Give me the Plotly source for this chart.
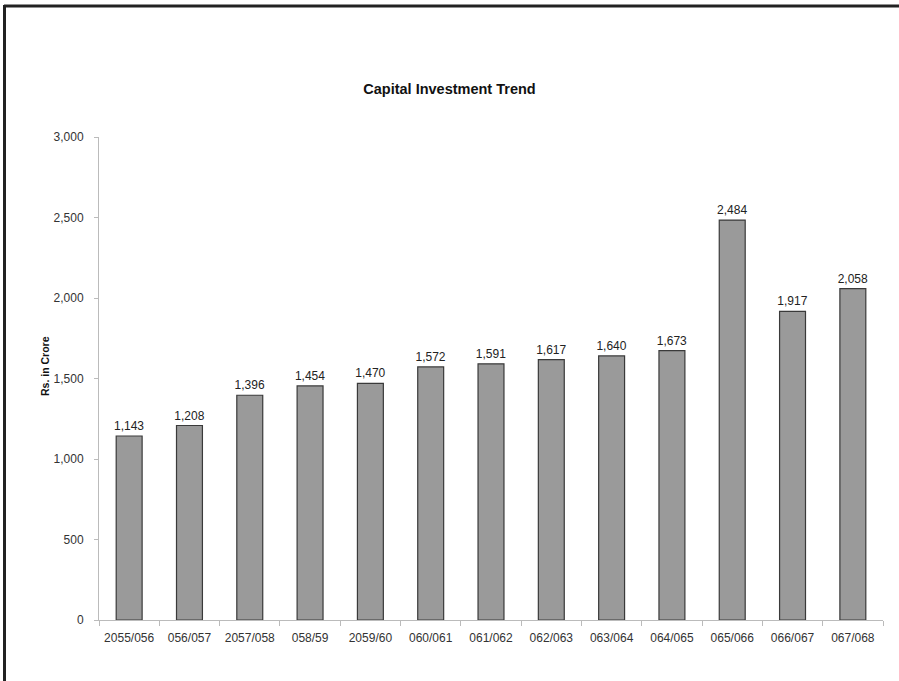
import plotly.graph_objects as go

# data
years = ["2055/056", "056/057", "2057/058", "058/59", "2059/60", "060/061",
         "061/062", "062/063", "063/064", "064/065", "065/066", "066/067", "067/068"]
capital = [1143, 1208, 1396, 1454, 1470, 1572, 1591, 1617, 1640, 1673, 2484, 1917, 2058]
y_ticks = [0, 500, 1000, 1500, 2000, 2500, 3000]

W, H = 899, 681
ML, MR, MT, MB = 99, 16, 137, 61
pw = W - ML - MR
ph = H - MT - MB

def px_x(p):
    return (p - ML) / pw

def px_y(p):
    return (H - MB - p) / ph

fig = go.Figure(go.Bar(
    x=years, y=capital,
    marker=dict(color="#9a9a9a", line=dict(color="#3a3a3a", width=1.2)),
    text=[f"{v:,}" for v in capital],
    textposition="outside",
    constraintext="none",
    textfont=dict(size=12, color="#222"),
    cliponaxis=False,
    width=0.43,
))

fig.update_layout(
    width=W, height=H,
    margin=dict(l=ML, r=MR, t=MT, b=MB),
    paper_bgcolor="white", plot_bgcolor="white",
    font=dict(family="Arial, Liberation Sans, sans-serif", color="#333"),
    title=dict(text="<b>Capital Investment Trend</b>", x=0.5, xanchor="center",
               y=1 - 89 / H, yanchor="middle", font=dict(size=14.5, color="#111")),
    showlegend=False,
    shapes=[
        # frame of the picture: top and left edges
        dict(type="line", xref="paper", yref="paper",
             x0=px_x(4), x1=px_x(W + 2), y0=px_y(6), y1=px_y(6),
             line=dict(color="#222", width=3)),
        dict(type="line", xref="paper", yref="paper",
             x0=px_x(4.5), x1=px_x(4.5), y0=px_y(5), y1=px_y(H + 2),
             line=dict(color="#222", width=3)),
    ],
    annotations=[
        dict(text="<b>Rs. in Crore</b>", textangle=-90, showarrow=False,
             xref="paper", yref="paper", x=px_x(45), y=px_y(366),
             xanchor="center", yanchor="middle",
             font=dict(size=10.5, color="#111")),
    ],
)

fig.update_xaxes(
    showline=True, linecolor="#bbb", linewidth=1,
    ticks="outside", ticklen=5, tickcolor="#bbb", tickson="boundaries",
    tickfont=dict(size=12, color="#333"), ticklabelstandoff=7,
    showgrid=False,
)
fig.update_yaxes(
    range=[0, 3000], tickvals=y_ticks, tickformat=",",
    showline=True, linecolor="#bbb", linewidth=1,
    ticks="outside", ticklen=4, tickcolor="#bbb",
    tickfont=dict(size=12, color="#333"), ticklabelstandoff=8,
    showgrid=False, zeroline=False,
)

fig.write_html("out.html", config={"displayModeBar": False},
               post_script="document.body.style.margin='0';")
